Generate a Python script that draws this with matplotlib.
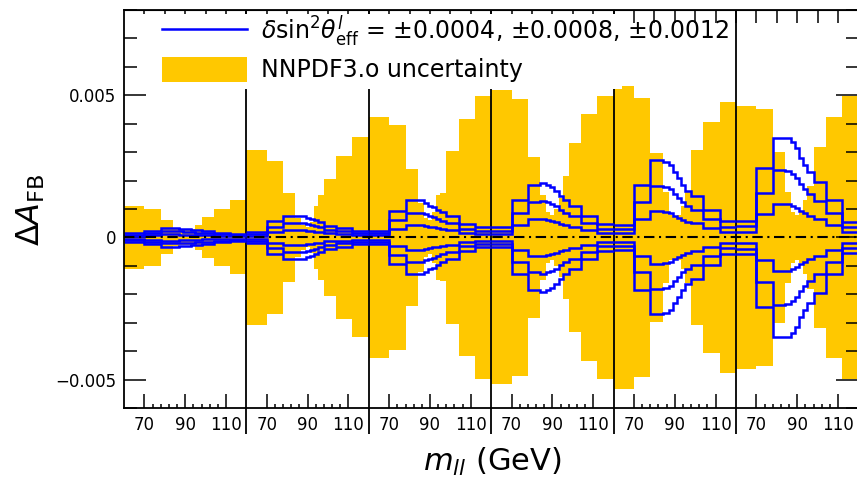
import numpy as np
import matplotlib.pyplot as plt
from matplotlib.lines import Line2D
from matplotlib.patches import Patch, Rectangle

# mass bins (GeV), identical in each of the 6 rapidity bins
mass_edges = [60, 70, 78, 84, 87, 89, 91, 93, 95, 98, 104, 112, 120]
mass_ticks = [70, 90, 110]
mass_minor = [74, 78, 82, 86, 94, 98, 102, 106]
n_panels = 6

# NNPDF3.0 uncertainty band, half width per bin (units of 1e-3)
pdf_band = [
    [1.10, 1.00, 0.60, 0.30, 0.26, 0.25, 0.26, 0.30, 0.44, 0.73, 1.01, 1.30],
    [3.07, 2.70, 1.58, 0.70, 0.45, 0.35, 0.55, 1.10, 1.48, 2.07, 2.87, 3.52],
    [4.25, 3.97, 2.42, 1.20, 0.70, 0.60, 0.90, 1.50, 1.55, 3.05, 4.17, 4.97],
    [5.17, 4.88, 2.83, 1.50, 0.90, 0.80, 1.00, 1.40, 2.17, 3.32, 4.35, 4.99],
    [5.33, 4.90, 2.97, 1.60, 0.80, 0.75, 0.80, 1.10, 1.60, 3.07, 4.05, 4.78],
    [4.63, 4.52, 3.00, 1.60, 0.90, 0.80, 0.90, 1.30, 1.80, 3.17, 4.23, 4.97],
]

# Delta A_FB for dsin2theta = 0.0012, 0.0008, 0.0004 (units of 1e-3, mirrored for the minus sign)
shift_12 = [
    [0.15, 0.24, 0.32, 0.32, 0.31, 0.30, 0.29, 0.27, 0.25, 0.22, 0.17, 0.12],
    [0.18, 0.57, 0.77, 0.77, 0.75, 0.70, 0.65, 0.60, 0.53, 0.41, 0.32, 0.24],
    [0.24, 0.94, 1.30, 1.30, 1.21, 1.12, 1.06, 0.97, 0.88, 0.77, 0.47, 0.35],
    [0.35, 1.30, 1.85, 1.92, 1.85, 1.77, 1.65, 1.45, 1.30, 1.12, 0.77, 0.47],
    [0.45, 1.85, 2.71, 2.67, 2.55, 2.30, 2.10, 1.85, 1.65, 1.47, 0.98, 0.57],
    [0.59, 2.44, 3.50, 3.50, 3.35, 3.15, 2.80, 2.55, 2.30, 1.94, 1.30, 0.55],
]
shift_08 = [
    [0.10, 0.16, 0.21, 0.21, 0.21, 0.20, 0.19, 0.18, 0.17, 0.15, 0.11, 0.08],
    [0.12, 0.38, 0.51, 0.51, 0.50, 0.47, 0.43, 0.40, 0.35, 0.27, 0.21, 0.16],
    [0.16, 0.63, 0.87, 0.87, 0.81, 0.75, 0.71, 0.65, 0.59, 0.51, 0.31, 0.23],
    [0.23, 0.87, 1.23, 1.28, 1.23, 1.18, 1.10, 0.97, 0.87, 0.75, 0.51, 0.31],
    [0.30, 1.23, 1.81, 1.78, 1.70, 1.53, 1.40, 1.23, 1.10, 0.98, 0.65, 0.38],
    [0.39, 1.58, 2.36, 2.33, 2.23, 2.10, 1.87, 1.70, 1.53, 1.29, 0.87, 0.37],
]
shift_04 = [
    [0.05, 0.08, 0.11, 0.11, 0.10, 0.10, 0.10, 0.09, 0.08, 0.07, 0.06, 0.04],
    [0.06, 0.19, 0.26, 0.26, 0.25, 0.23, 0.22, 0.20, 0.18, 0.14, 0.11, 0.08],
    [0.08, 0.31, 0.43, 0.43, 0.40, 0.37, 0.35, 0.32, 0.29, 0.26, 0.16, 0.12],
    [0.12, 0.45, 0.64, 0.66, 0.62, 0.59, 0.55, 0.48, 0.43, 0.37, 0.26, 0.16],
    [0.16, 0.66, 0.92, 0.90, 0.85, 0.77, 0.70, 0.62, 0.55, 0.49, 0.33, 0.19],
    [0.20, 0.81, 1.17, 1.17, 1.12, 1.05, 0.93, 0.85, 0.77, 0.65, 0.43, 0.18],
]

yellow = '#FFC800'
W, H = 857, 483

fig = plt.figure(figsize=(W / 100, H / 100), dpi=100)
ax = fig.add_axes([124 / W, 1 - 408 / H, (858.4 - 124) / W, 398 / H])

width = mass_edges[-1] - mass_edges[0]
for i in range(n_panels):
    x = i * width + np.array(mass_edges) - mass_edges[0]
    band = np.array(pdf_band[i]) * 1e-3
    ax.stairs(band, x, baseline=-band, fill=True, facecolor=yellow,
              edgecolor='none', zorder=1.5)
    for sh in (shift_04, shift_08, shift_12):
        v = np.array(sh[i]) * 1e-3
        ax.stairs(v, x, baseline=None, color='blue', lw=1.8, zorder=2.3)
        ax.stairs(-v, x, baseline=None, color='blue', lw=1.8, zorder=2.3)

ax.set_xlim(0, n_panels * width)
ax.set_ylim(-0.006, 0.008)

# panel separators, running down into the tick label row
seps = [i * width for i in range(1, n_panels)]
ax.vlines(seps, -0.0069, 0.008, colors='black', lw=1.3, clip_on=False, zorder=2.2)
ax.axhline(0, color='black', lw=1.5, ls=(0, (5, 2.2, 1, 2.2)), zorder=2.45)

# x ticks per panel
maj = [i * width + m - mass_edges[0] for i in range(n_panels) for m in mass_ticks]
mnr = [i * width + m - mass_edges[0] for i in range(n_panels) for m in mass_minor]
ax.set_xticks(maj, [str(m) for i in range(n_panels) for m in mass_ticks])
ax.set_xticks(mnr, minor=True)
ax.tick_params(axis='x', which='major', direction='in', length=10, width=1.1,
               top=False, pad=6, labelsize=12)
ax.tick_params(axis='x', which='minor', direction='in', length=3, width=1.1, top=False)

top = ax.secondary_xaxis('top')
top.set_xticks(np.arange(10, n_panels * width, 10))
top.tick_params(direction='in', length=9.5, width=1.1, labeltop=False, labelbottom=False)

ax.set_yticks([-0.005, 0, 0.005], ['\u22120.005', '0', '0.005'])
ax.set_yticks(np.arange(-6, 9) * 1e-3, minor=True)
ax.tick_params(axis='y', which='major', direction='in', length=15.5, width=1.1,
               right=True, pad=5.5, labelsize=12)
ax.tick_params(axis='y', which='minor', direction='in', length=9, width=1.1, right=True)

for s in ax.spines.values():
    s.set_linewidth(1.3)

# legend background (ROOT style, text runs past the box)
ax.add_patch(Rectangle((140 / W, 1 - 89 / H), (622 - 140) / W, 75 / H,
                       transform=fig.transFigure, facecolor='white',
                       edgecolor='none', zorder=2.6))
ax.legend(handles=[Line2D([], [], color='blue', lw=1.8),
                   Patch(facecolor=yellow, edgecolor='none')],
          labels=['$\\delta\\mathrm{sin}^2\\theta^{l}_{\\mathrm{eff}}$ = \u00b10.0004, \u00b10.0008, \u00b10.0012',
                  'NNPDF3.o uncertainty'],
          loc='upper left', bbox_to_anchor=(162 / W, 1 - 14 / H),
          bbox_transform=fig.transFigure, frameon=False, fontsize=17,
          handlelength=3.6, handleheight=1.3, handletextpad=0.6,
          labelspacing=0.3, borderaxespad=0, borderpad=0)

fig.text(31 / W, 1 - 210 / H, r'$\Delta A_{\mathrm{FB}}$', rotation=90,
         ha='center', va='center', fontsize=23)
fig.text(492 / W, 1 - 462 / H, r'$m_{ll}$ (GeV)', ha='center', va='center', fontsize=22)

fig.savefig('out.png', dpi=100)
